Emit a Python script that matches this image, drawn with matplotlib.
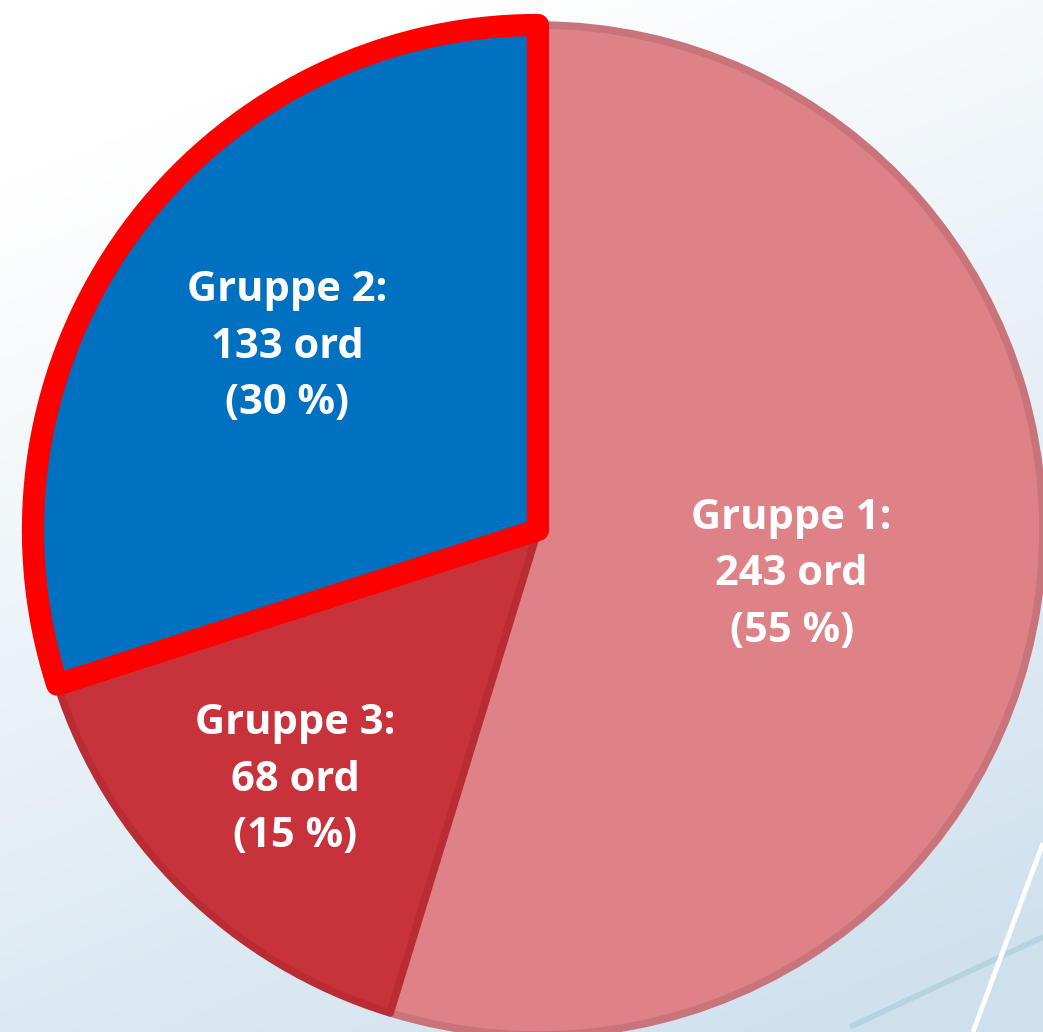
import numpy as np
import matplotlib
matplotlib.use("Agg")
import matplotlib.pyplot as plt
import matplotlib.patheffects as pe

categories = ["Gruppe 1", "Gruppe 3", "Gruppe 2"]
counts = [243, 68, 133]
percents = [55, 15, 30]
unit = "ord"

face_colors = ["#DF8287", "#C8323A", "#0070C0"]
edge_colors = ["#C9737A", "#B92C34", "#FF0000"]
edge_widths = [5.5, 5.5, 16]
explode = [0, 0, 0.022]
label_dist = [0.51, 0.69, 0.615]
label_angle_shift = [-1.5, 0.5, 0.0]

W, H = 1043, 1032
fig = plt.figure(figsize=(W / 100, H / 100), dpi=100)
ax = fig.add_axes([0, 0, 1, 1])
ax.set_xlim(0, W)
ax.set_ylim(0, H)
ax.set_aspect("equal")
ax.axis("off")

# background gradient (white top-left -> light blue bottom-right)
yy, xx = np.mgrid[0:1:200j, 0:1:200j]
t = np.clip(yy * 0.85 + xx * 0.35 - 0.15, 0, 1)
c0 = np.array([1.0, 1.0, 1.0])
c1 = np.array([0.81, 0.88, 0.93])
img = c0 + (c1 - c0) * t[..., None]
ax.imshow(img, extent=[0, W, 0, H], origin="upper", zorder=0, aspect="auto")
# decorative lines bottom right
ax.plot([850, 1043], [H - 1027, H - 937], color="#B5D3E0", lw=4, zorder=1,
        solid_capstyle="butt")
ax.plot([973, 1043], [H - 1032, H - 843], color="white", lw=3.5, zorder=1,
        solid_capstyle="butt")

cx, cy, r = 538, H - 530, 505
wedges, _ = ax.pie(counts, colors=face_colors, startangle=90, counterclock=False,
                   explode=explode, center=(cx, cy), radius=r, frame=True,
                   wedgeprops=dict(linewidth=0))
ax.set_xlim(0, W)
ax.set_ylim(0, H)
ax.axis("off")

for i, w in enumerate(wedges):
    w.set_edgecolor(edge_colors[i])
    w.set_linewidth(edge_widths[i])
    w.set_joinstyle("round")
    w.set_zorder(3 + i)
    if i == 2:
        w.set_path_effects([pe.SimplePatchShadow(offset=(2, -3), shadow_rgbFace="#20303a", alpha=0.5),
                            pe.Normal()])

for i, w in enumerate(wedges):
    ang = np.deg2rad((w.theta1 + w.theta2) / 2 + label_angle_shift[i])
    wx, wy = w.center
    x = wx + label_dist[i] * r * np.cos(ang)
    y = wy + label_dist[i] * r * np.sin(ang)
    ax.text(x, y, f"{categories[i]}:\n{counts[i]} {unit}\n({percents[i]} %)",
            ha="center", va="center", color="white", fontsize=30,
            fontweight="bold", family=["Open Sans", "DejaVu Sans"],
            linespacing=1.5, zorder=10)

fig.savefig("out.png", dpi=100)
